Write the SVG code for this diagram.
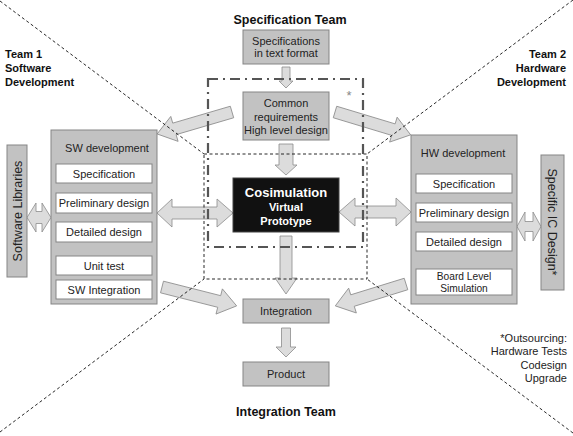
<svg xmlns="http://www.w3.org/2000/svg" width="573" height="436" viewBox="0 0 573 436">
<style>
text{font-family:"Liberation Sans",Arial,sans-serif;fill:#222}
.t{font-size:11px;text-anchor:middle}
.title{font-size:12.5px;font-weight:bold;fill:#111}
.team{font-size:11px;font-weight:bold;fill:#111}
.gbox{fill:#c2c2c2;stroke:#858585;stroke-width:1}
.wbox{fill:#fff;stroke:#858585;stroke-width:1}
.arr{fill:#dcdcdc;stroke:#8c8c8c;stroke-width:0.8}
.diag{fill:none;stroke:#111;stroke-width:0.9;stroke-dasharray:3 2.5}
.dd{fill:none;stroke:#555;stroke-width:2.2;stroke-dasharray:10 5 2 5}
</style>
<rect width="573" height="436" fill="#fff"/>

<g id="connectors">
  <!-- vertical arrows -->
  <path class="arr" d="M282,67 H290 V81 H293 L286,88 L279,81 H282 Z"/>
  <path class="arr" d="M279,144 H293 V165 H297 L286,175 L275,165 H279 Z"/>
  <path class="arr" d="M280,236 H292 V278 H297 L286,294 L275,278 H280 Z"/>
  <path class="arr" d="M281.5,328 H290.5 V347 H296 L286,357 L276,347 H281.5 Z"/>
  <!-- double arrows -->
  <path class="arr" d="M27,217.5 L36,203 V211.5 H42 V203 L51,217.5 L42,232 V223.5 H36 V232 Z"/>
  <path class="arr" d="M157,213 L172,199 V207 H217 V199 L233,213 L217,227 V219 H172 V227 Z"/>
  <path class="arr" d="M339,212 L355,198 V206 H396 V198 L411,212 L396,226 V218 H355 V226 Z"/>
  <path class="arr" d="M517,226.5 L525,212 V221.5 H533 V212 L541,226.5 L533,241 V231.5 H525 V241 Z"/>
  <!-- diagonal arrows -->
  <path class="arr" transform="translate(232,112) rotate(163.65)" d="M0,-6 H60 V-13 L78,0 L60,13 V6 H0 Z"/>
  <path class="arr" transform="translate(335,112) rotate(16.8)" d="M0,-6 H61 V-13 L79,0 L61,13 V6 H0 Z"/>
  <path class="arr" transform="translate(162,287) rotate(14.2)" d="M0,-6 H59 V-13 L77,0 L59,13 V6 H0 Z"/>
  <path class="arr" transform="translate(406,284) rotate(162.8)" d="M0,-6 H56 V-13 L74,0 L56,13 V6 H0 Z"/>
</g>

<g id="regions">
  <path class="diag" d="M0,1 L204,154 M573,0 L367,154 M0,432 L204,279 M573,433 L367,279"/>
  <rect class="diag" x="204" y="154" width="163" height="125"/>
  <rect class="dd" x="208" y="79" width="155" height="168"/>
  <text x="349" y="100" style="font-size:13px;fill:#888;text-anchor:middle">*</text>
</g>

<g id="titles">
  <text class="title" x="290" y="24" text-anchor="middle">Specification Team</text>
  <text class="title" x="286" y="416" text-anchor="middle">Integration Team</text>
  <text class="team" x="5" y="58">Team 1</text>
  <text class="team" x="5" y="72">Software</text>
  <text class="team" x="5" y="86">Development</text>
  <text class="team" x="566" y="58" text-anchor="end">Team 2</text>
  <text class="team" x="566" y="72" text-anchor="end">Hardware</text>
  <text class="team" x="566" y="86" text-anchor="end">Development</text>
</g>

<g id="spec-text">
  <rect class="gbox" x="243" y="30" width="86" height="34"/>
  <text class="t" x="286" y="45">Specifications</text>
  <text class="t" x="286" y="57">in text format</text>
</g>

<g id="common-req">
  <rect class="gbox" x="243" y="92" width="86" height="48"/>
  <text class="t" x="286" y="107">Common</text>
  <text class="t" x="286" y="121">requirements</text>
  <text class="t" x="286" y="134">High level design</text>
</g>

<g id="cosimulation">
  <rect x="233" y="178" width="106" height="54" fill="#111" stroke="#444"/>
  <text x="286" y="197" style="font-size:13px;font-weight:bold;fill:#fff;text-anchor:middle">Cosimulation</text>
  <text x="286" y="211" style="font-size:11px;font-weight:bold;fill:#fff;text-anchor:middle">Virtual</text>
  <text x="286" y="225" style="font-size:11px;font-weight:bold;fill:#fff;text-anchor:middle">Prototype</text>
</g>

<g id="integration">
  <rect class="gbox" x="243" y="299" width="86" height="24"/>
  <text class="t" x="286" y="315">Integration</text>
</g>

<g id="product">
  <rect class="gbox" x="243" y="362" width="86" height="24"/>
  <text class="t" x="286" y="378">Product</text>
</g>

<g id="sw-libraries">
  <rect class="gbox" x="7" y="145" width="20" height="132"/>
  <text x="21.5" y="211" transform="rotate(-90 21.5 211)" style="font-size:12.5px;text-anchor:middle">Software Libraries</text>
</g>

<g id="sw-development">
  <rect class="gbox" x="51" y="130" width="106" height="174"/>
  <text class="t" x="107" y="152">SW development</text>
  <rect class="wbox" x="56" y="164" width="96" height="19"/>
  <text class="t" x="104" y="177.5">Specification</text>
  <rect class="wbox" x="56" y="193" width="96" height="20"/>
  <text class="t" x="104" y="207">Preliminary design</text>
  <rect class="wbox" x="56" y="222" width="96" height="20"/>
  <text class="t" x="104" y="236">Detailed design</text>
  <rect class="wbox" x="56" y="256" width="96" height="19"/>
  <text class="t" x="104" y="269.5">Unit test</text>
  <rect class="wbox" x="56" y="280" width="96" height="19"/>
  <text class="t" x="104" y="293.5">SW Integration</text>
</g>

<g id="hw-development">
  <rect class="gbox" x="411" y="135" width="106" height="169"/>
  <text class="t" x="463" y="157">HW development</text>
  <rect class="wbox" x="416" y="174" width="96" height="19"/>
  <text class="t" x="464" y="187.5">Specification</text>
  <rect class="wbox" x="416" y="203" width="96" height="19"/>
  <text class="t" x="464" y="216.5">Preliminary design</text>
  <rect class="wbox" x="416" y="232" width="96" height="19"/>
  <text class="t" x="464" y="245.5">Detailed design</text>
  <rect class="wbox" x="416" y="269" width="96" height="26"/>
  <text x="464" y="280" style="font-size:10.2px;text-anchor:middle">Board Level</text>
  <text x="464" y="291.6" style="font-size:10.2px;text-anchor:middle">Simulation</text>
</g>

<g id="specific-ic">
  <rect class="gbox" x="541" y="155" width="23" height="135"/>
  <text x="548" y="222" transform="rotate(90 548 222)" style="font-size:12.5px;text-anchor:middle">Specific IC Design*</text>
</g>

<g id="outsourcing">
  <text x="567" y="342" style="font-size:11px;text-anchor:end">*Outsourcing:</text>
  <text x="567" y="355" style="font-size:11px;text-anchor:end">Hardware Tests</text>
  <text x="567" y="369" style="font-size:11px;text-anchor:end">Codesign</text>
  <text x="567" y="382" style="font-size:11px;text-anchor:end">Upgrade</text>
</g>
</svg>
